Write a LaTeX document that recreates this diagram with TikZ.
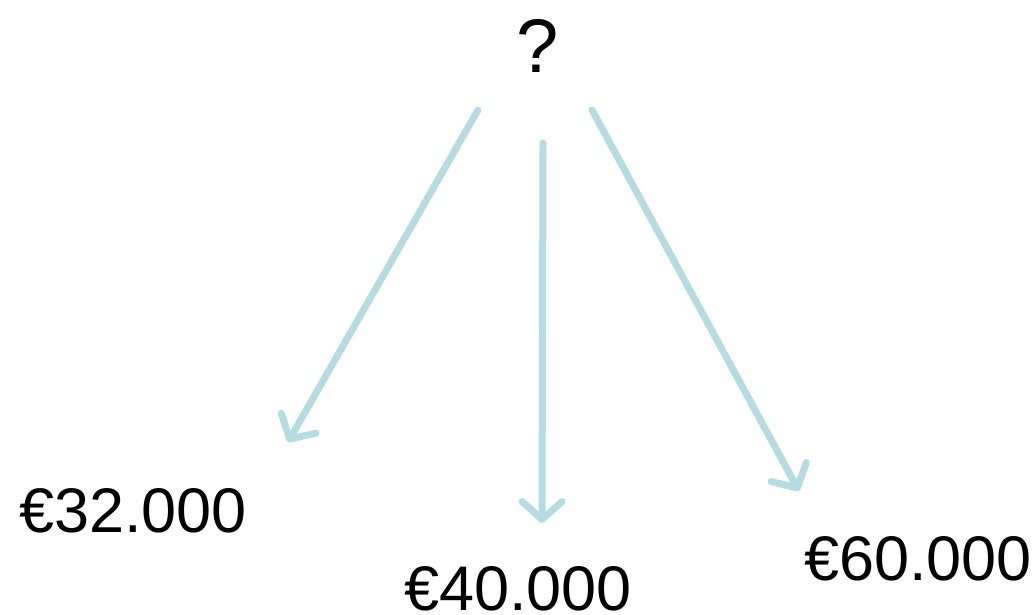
\documentclass[tikz,border=0pt]{standalone}
\usepackage{fontspec}
\setmainfont{Liberation Sans}
\usetikzlibrary{arrows.meta}
\definecolor{arrowteal}{HTML}{B5DCE0}
\tikzset{
  label text/.style={inner sep=0pt, anchor=base, font=\fontsize{63}{70}\selectfont},
  big text/.style={inner sep=0pt, anchor=base, font=\fontsize{76}{80}\selectfont},
  pointer/.style={draw=arrowteal, line width=7pt, line cap=round,
    -{Straight Barb[length=18pt, width=40pt, line cap=round, line join=round]}}
}
\begin{document}
\begin{tikzpicture}[x=1pt, y=-1pt]
  \useasboundingbox (0,0) rectangle (1036,615);
  % question and the three possible outcomes
  \node[big text] (q) at (538,73) {?};
  \node[label text] (a) at (133,532) {€32.000};
  \node[label text] (b) at (518,610) {€40.000};
  \node[label text] (c) at (918,580) {€60.000};
  % arrow end points
  \coordinate (qa) at (478,110);
  \coordinate (qb) at (543,143);
  \coordinate (qc) at (592,110);
  \coordinate (ta) at (288,442);
  \coordinate (tb) at (542,523);
  \coordinate (tc) at (799,491);
  \draw[pointer] (qa) -- (ta);
  \draw[pointer] (qb) -- (tb);
  \draw[pointer] (qc) -- (tc);
\end{tikzpicture}
\end{document}
